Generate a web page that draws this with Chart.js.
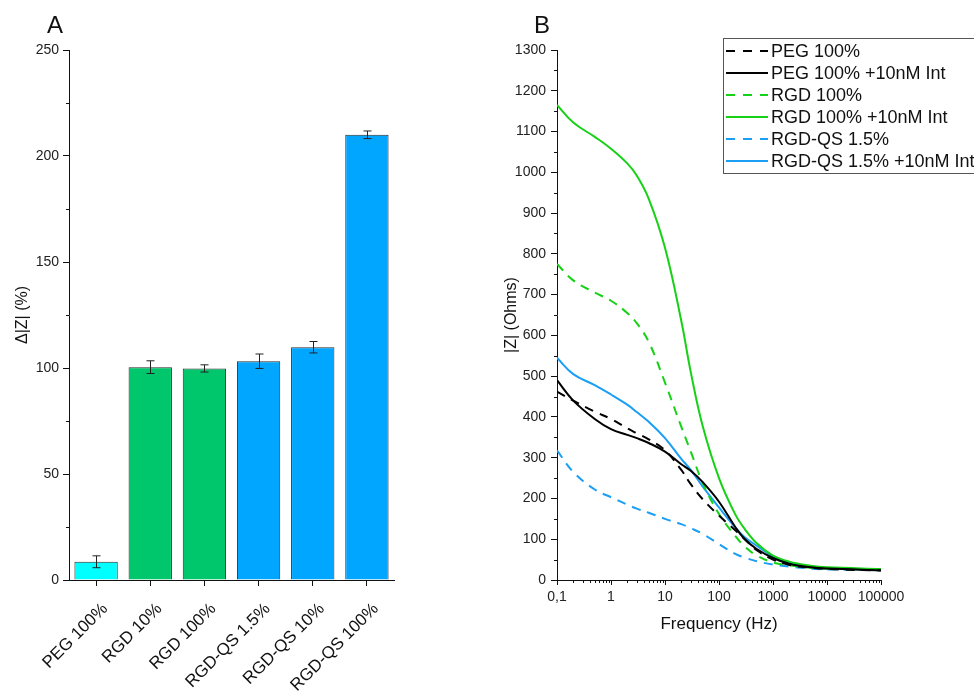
<!DOCTYPE html>
<html>
<head>
<meta charset="utf-8">
<script src="https://cdn.jsdelivr.net/npm/chart.js@4/dist/chart.umd.min.js"></script>
<style>
  html, body { margin: 0; padding: 0; background: #fff; }
  #wrapA { position: absolute; left: 0; top: 0; width: 480px; height: 692px; }
  #wrapB { position: absolute; left: 480px; top: 0; width: 494px; height: 692px; }
</style>
</head>
<body>
<div id="wrapA"><canvas id="chartA"></canvas></div>
<div id="wrapB"><canvas id="chartB"></canvas></div>
<script>
// ---------- Panel A data ----------
const barCategories = ['PEG 100%', 'RGD 10%', 'RGD 100%', 'RGD-QS 1.5%', 'RGD-QS 10%', 'RGD-QS 100%'];
const barValues = [8.6, 100.4, 99.8, 103.2, 109.8, 210.0];
const barErrors = [2.8, 3.0, 1.7, 3.4, 2.7, 1.8];
const barColors = ['#00FFFF', '#00C66C', '#00C66C', '#00A6FF', '#00A6FF', '#00A6FF'];
const barTicksY = [0, 50, 100, 150, 200, 250];

// ---------- Panel B data ----------
const frequency = [0.1, 0.2, 0.5, 1, 2, 3, 5, 10, 20, 30, 50, 100, 200, 300, 500, 1000, 2000, 5000, 10000, 100000];
const peg100     = [462, 440, 413, 395, 372, 360, 345, 318, 270, 235, 198, 158, 122, 100, 73, 50, 37, 30, 27, 23];
const peg100Int  = [490, 440, 395, 370, 356, 348, 336, 315, 284, 268, 240, 192, 130, 100, 76, 54, 40, 31, 28, 24];
const rgd100     = [775, 735, 705, 685, 655, 630, 584, 484, 376, 315, 238, 162, 108, 82, 60, 43, 36, 30, 28, 25];
const rgd100Int  = [1165, 1122, 1087, 1058, 1022, 992, 935, 815, 636, 510, 377, 250, 161, 125, 90, 60, 45, 35, 31, 27];
const rgdQs15    = [318, 265, 222, 203, 185, 175, 165, 150, 137, 127, 113, 88, 64, 55, 46, 38, 33, 28, 26, 24];
const rgdQs15Int = [545, 505, 478, 455, 430, 412, 388, 348, 297, 270, 229, 178, 129, 105, 84, 58, 42, 31, 28, 25];
const seriesLabels = ['PEG 100%', 'PEG 100% +10nM Int', 'RGD 100%', 'RGD 100% +10nM Int', 'RGD-QS 1.5%', 'RGD-QS 1.5% +10nM Int'];
const freqTickValues = [0.1, 1, 10, 100, 1000, 10000, 100000];
const freqTickLabels = ['0,1', '1', '10', '100', '1000', '10000', '100000'];
const ohmTickValues = [0, 100, 200, 300, 400, 500, 600, 700, 800, 900, 1000, 1100, 1200, 1300];
const ohmTickLabels = ['0', '100', '200', '300', '400', '500', '600', '700', '800', '900', '1000', '1100', '1200', '1300'];

const FONT = "'Liberation Sans', Arial, sans-serif";
Chart.defaults.font.family = FONT;
Chart.defaults.color = '#222';
Chart.defaults.animation = false;

// ---- helper plugins ----
const panelLetter = (letter, x, y) => ({
  id: 'letter' + letter,
  afterDraw(chart) {
    const ctx = chart.ctx;
    ctx.save();
    ctx.font = '24px ' + FONT;
    ctx.fillStyle = '#111';
    ctx.textAlign = 'center';
    ctx.textBaseline = 'middle';
    ctx.fillText(letter, x, y);
    ctx.restore();
  }
});

const minorTicksPlugin = {
  id: 'minorTicks',
  afterDraw(chart, args, opts) {
    const ctx = chart.ctx;
    ctx.save();
    ctx.strokeStyle = '#111';
    ctx.lineWidth = 1;
    (opts.y || []).forEach(v => {
      const sy = chart.scales.y;
      const py = Math.round(sy.getPixelForValue(v)) + 0.5;
      ctx.beginPath();
      ctx.moveTo(sy.right - 3, py);
      ctx.lineTo(sy.right, py);
      ctx.stroke();
    });
    (opts.x || []).forEach(v => {
      const sx = chart.scales.x;
      const px = Math.round(sx.getPixelForValue(v)) + 0.5;
      ctx.beginPath();
      ctx.moveTo(px, sx.top);
      ctx.lineTo(px, sx.top + 3);
      ctx.stroke();
    });
    ctx.restore();
  }
};

const errorBarPlugin = {
  id: 'errorBars',
  afterDatasetsDraw(chart) {
    const ctx = chart.ctx;
    const meta = chart.getDatasetMeta(0);
    const sy = chart.scales.y;
    ctx.save();
    ctx.strokeStyle = '#222';
    ctx.lineWidth = 1;
    meta.data.forEach((bar, i) => {
      const v = barValues[i], e = barErrors[i];
      const x = Math.round(bar.x) + 0.5;
      const yTop = sy.getPixelForValue(v + e);
      const yBot = sy.getPixelForValue(v - e);
      ctx.beginPath();
      ctx.moveTo(x, yTop); ctx.lineTo(x, yBot);
      ctx.moveTo(x - 4, yTop); ctx.lineTo(x + 4, yTop);
      ctx.moveTo(x - 4, yBot); ctx.lineTo(x + 4, yBot);
      ctx.stroke();
    });
    ctx.restore();
  }
};

// ---------- Chart A ----------
const minorA = [];
for (let v = 25; v < 250; v += 50) minorA.push(v);

new Chart(document.getElementById('chartA'), {
  type: 'bar',
  data: {
    labels: barCategories,
    datasets: [{
      data: barValues,
      backgroundColor: barColors,
      borderColor: '#2a2a2a',
      borderWidth: 1,
      barPercentage: 0.8,
      categoryPercentage: 1.0
    }]
  },
  options: {
    responsive: true,
    maintainAspectRatio: false,
    layout: { autoPadding: false, padding: { top: 50, right: 86, left: 0, bottom: 0 } },
    plugins: {
      legend: { display: false },
      tooltip: { enabled: false },
      minorTicks: { y: minorA }
    },
    scales: {
      x: {
        type: 'category',
        offset: true,
        grid: { display: true, drawOnChartArea: false, offset: false, tickLength: 6, color: '#111' },
        border: { display: true, color: '#111', width: 1 },
        ticks: { minRotation: 45, maxRotation: 45, autoSkip: false, padding: 13, labelOffset: 9, font: { size: 17 }, color: '#111' },
        afterFit(s) { s.height = 112; }
      },
      y: {
        min: 0, max: 250,
        afterBuildTicks(s) { s.ticks = barTicksY.map(v => ({ value: v })); },
        grid: { display: true, drawOnChartArea: false, tickLength: 6, color: '#111' },
        border: { display: true, color: '#111', width: 1 },
        ticks: { padding: 4, font: { size: 14 }, color: '#222' },
        title: { display: true, text: 'Δ|Z| (%)', font: { size: 16 }, color: '#111', padding: { top: 13, bottom: 0 } },
        afterFit(s) { s.width = 69; }
      }
    }
  },
  plugins: [errorBarPlugin, minorTicksPlugin, panelLetter('A', 55, 26)]
});

// ---------- Chart B ----------
const lineColors = ['#000000', '#000000', '#16D116', '#16D116', '#1A9FF5', '#1A9FF5'];
const lineSeries = [peg100, peg100Int, rgd100, rgd100Int, rgdQs15, rgdQs15Int];
const dashed = [true, false, true, false, true, false];

const datasetsB = lineSeries.map((vals, i) => ({
  label: seriesLabels[i],
  data: frequency.map((f, j) => ({ x: f, y: vals[j] })),
  borderColor: lineColors[i],
  borderWidth: 2,
  borderDash: dashed[i] ? [9, 7] : [],
  pointRadius: 0,
  fill: false,
  tension: 0.4
}));

const minorBx = [];
for (let d = -1; d < 5; d++) for (let k = 2; k <= 9; k++) minorBx.push(k * Math.pow(10, d));
const minorBy = [];
for (let v = 50; v < 1300; v += 100) minorBy.push(v);

const legendPlugin = {
  id: 'boxLegend',
  afterDraw(chart) {
    const ctx = chart.ctx;
    ctx.save();
    const bx = 243.5, by = 38.5, bw = 260, bh = 135;
    ctx.strokeStyle = '#555';
    ctx.lineWidth = 1;
    ctx.fillStyle = '#fff';
    ctx.fillRect(bx, by, bw, bh);
    ctx.strokeRect(bx, by, bw, bh);
    ctx.font = '18px ' + FONT;
    ctx.textBaseline = 'middle';
    ctx.textAlign = 'left';
    chart.data.datasets.forEach((ds, i) => {
      const y = 51 + i * 22;
      ctx.strokeStyle = ds.borderColor;
      ctx.lineWidth = 2;
      ctx.setLineDash(ds.borderDash && ds.borderDash.length ? [9, 8] : []);
      ctx.beginPath();
      ctx.moveTo(246, y);
      ctx.lineTo(288, y);
      ctx.stroke();
      ctx.setLineDash([]);
      ctx.fillStyle = '#111';
      ctx.fillText(ds.label, 291, y + 1);
    });
    ctx.restore();
  }
};

new Chart(document.getElementById('chartB'), {
  type: 'line',
  data: { datasets: datasetsB },
  options: {
    responsive: true,
    maintainAspectRatio: false,
    layout: { autoPadding: false, padding: { top: 50, right: 93, left: 0, bottom: 0 } },
    plugins: {
      legend: { display: false },
      tooltip: { enabled: false },
      minorTicks: { x: minorBx, y: minorBy }
    },
    scales: {
      x: {
        type: 'logarithmic',
        min: 0.1, max: 100000,
        afterBuildTicks(s) { s.ticks = freqTickValues.map(v => ({ value: v })); },
        grid: { display: true, drawOnChartArea: false, tickLength: 5, color: '#111' },
        border: { display: true, color: '#111', width: 1 },
        ticks: {
          padding: 4, font: { size: 14 }, color: '#222', maxRotation: 0, autoSkip: false,
          callback(v, idx) { return freqTickLabels[idx]; }
        },
        title: { display: true, text: 'Frequency (Hz)', font: { size: 17 }, color: '#111', padding: { top: 0, bottom: 57 } },
        afterFit(s) { s.height = 112; }
      },
      y: {
        min: 0, max: 1300,
        afterBuildTicks(s) { s.ticks = ohmTickValues.map(v => ({ value: v })); },
        ticks: { padding: 5, font: { size: 14 }, color: '#222', callback(v, idx) { return ohmTickLabels[idx]; } },
        grid: { display: true, drawOnChartArea: false, tickLength: 6, color: '#111' },
        border: { display: true, color: '#111', width: 1 },
        title: { display: true, text: '|Z| (Ohms)', font: { size: 16 }, color: '#111', padding: { top: 22, bottom: 0 } },
        afterFit(s) { s.width = 77; }
      }
    }
  },
  plugins: [minorTicksPlugin, legendPlugin, panelLetter('B', 62, 26)]
});
</script>
</body>
</html>
